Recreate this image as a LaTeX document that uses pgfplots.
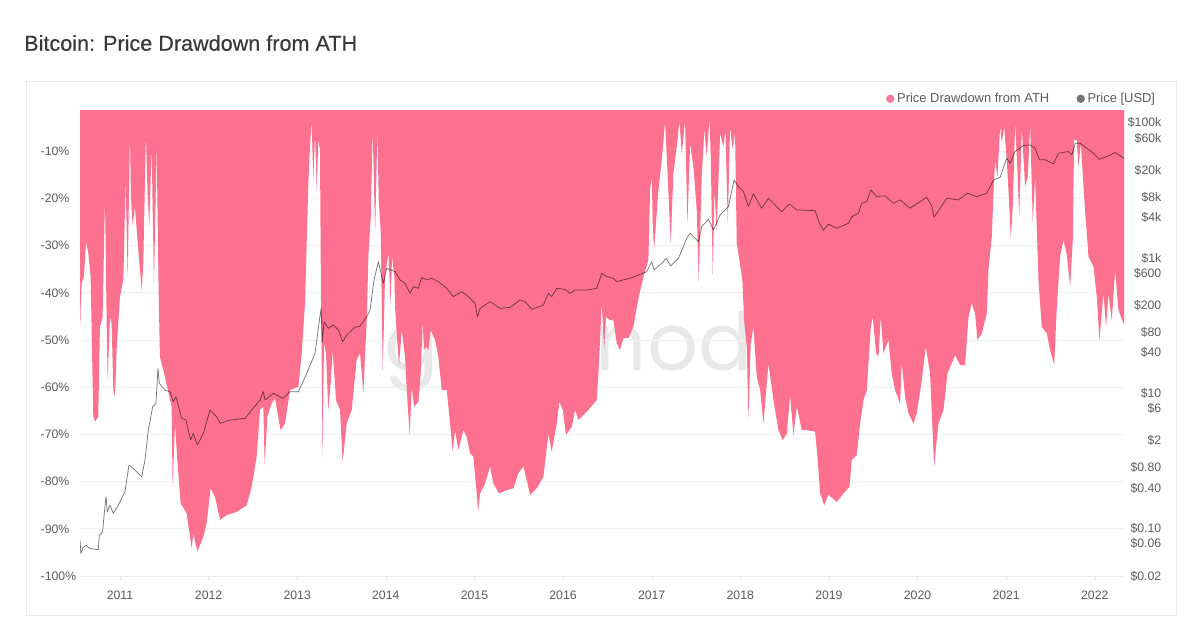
\documentclass[border=0pt]{standalone}
\usepackage{fontspec}
\setmainfont{Liberation Sans}
\usepackage{pgfplots}
\usepackage{pgfplotstable}
\pgfplotsset{compat=1.18}
\definecolor{ddpink}{HTML}{FD718F}
\definecolor{legpink}{HTML}{F4799A}
\definecolor{txtgray}{HTML}{5C5C5C}
\definecolor{gridc}{HTML}{F1F1F1}
\newfontfamily\wmfont{Poppins}
\pgfplotstableread{
year dd
2010.549 0
2010.549 -39.4
2010.556 -47.2
2010.567 -38.0
2010.594 -36.6
2010.616 -29.2
2010.643 -31.6
2010.669 -36.6
2010.699 -66.2
2010.718 -67.3
2010.755 -66.2
2010.774 -47.2
2010.804 -45.1
2010.831 -19.6
2010.850 -46.5
2010.861 -58.5
2010.887 -45.1
2010.906 -46.5
2010.925 -60.6
2010.944 -62.0
2010.962 -52.1
2011.000 -40.8
2011.038 -37.3
2011.064 -16.1
2011.087 -36.6
2011.113 -5.9
2011.124 -19.6
2011.143 -25.6
2011.169 -21.8
2011.207 -30.9
2011.245 -39.4
2011.263 -33.8
2011.293 -6.2
2011.309 -17.5
2011.331 -26.0
2011.357 -9.0
2011.384 -38.0
2011.414 -8.7
2011.436 -39.4
2011.451 -53.5
2011.508 -57.8
2011.583 -64.1
2011.594 -81.1
2011.621 -67.7
2011.647 -75.4
2011.685 -84.6
2011.752 -86.7
2011.809 -94.1
2011.828 -91.0
2011.873 -94.8
2011.941 -91.7
2011.978 -88.8
2012.023 -81.4
2012.072 -83.2
2012.129 -88.1
2012.204 -87.1
2012.317 -86.4
2012.430 -85.0
2012.486 -81.1
2012.543 -74.7
2012.580 -64.8
2012.618 -64.1
2012.633 -76.5
2012.663 -66.2
2012.712 -63.4
2012.749 -62.4
2012.813 -69.1
2012.862 -67.7
2012.919 -60.6
2013.013 -59.9
2013.051 -52.8
2013.088 -42.2
2013.126 -16.8
2013.144 -9.0
2013.163 -3.7
2013.182 -16.1
2013.201 -6.2
2013.220 -18.2
2013.238 -7.6
2013.257 -9.7
2013.269 -42.9
2013.276 -53.5
2013.287 -75.1
2013.302 -50.7
2013.325 -52.8
2013.351 -64.8
2013.378 -59.2
2013.400 -52.1
2013.438 -62.7
2013.483 -64.8
2013.513 -75.8
2013.558 -67.7
2013.615 -64.8
2013.671 -54.2
2013.709 -52.8
2013.747 -61.3
2013.766 -52.8
2013.784 -46.5
2013.803 -32.3
2013.830 -23.9
2013.852 -5.5
2013.879 -27.4
2013.905 -5.2
2013.920 -20.3
2013.942 -26.7
2013.954 -42.2
2013.965 -56.7
2013.991 -36.6
2014.029 -31.6
2014.055 -42.2
2014.070 -32.3
2014.097 -36.6
2014.104 -42.9
2014.123 -48.6
2014.149 -55.3
2014.180 -47.9
2014.217 -53.5
2014.243 -62.7
2014.270 -70.1
2014.292 -59.9
2014.319 -64.1
2014.368 -63.1
2014.394 -57.1
2014.416 -45.8
2014.431 -52.1
2014.454 -51.4
2014.480 -52.1
2014.507 -47.9
2014.556 -50.0
2014.593 -53.5
2014.631 -60.6
2014.688 -60.6
2014.725 -67.7
2014.755 -73.7
2014.781 -69.1
2014.819 -73.3
2014.875 -69.1
2014.913 -70.5
2014.951 -74.0
2014.988 -74.7
2015.026 -82.5
2015.041 -86.4
2015.064 -82.5
2015.120 -80.4
2015.177 -76.8
2015.214 -80.4
2015.278 -82.5
2015.365 -81.8
2015.440 -81.4
2015.496 -78.2
2015.553 -76.8
2015.590 -79.7
2015.628 -82.8
2015.703 -81.4
2015.778 -79.0
2015.835 -69.8
2015.872 -73.7
2015.929 -67.7
2015.959 -63.1
2015.997 -64.8
2016.034 -70.1
2016.098 -68.4
2016.136 -64.8
2016.173 -66.9
2016.267 -65.2
2016.380 -62.7
2016.399 -57.1
2016.437 -42.2
2016.463 -52.1
2016.485 -45.1
2016.531 -45.8
2016.568 -45.8
2016.606 -50.7
2016.643 -52.1
2016.681 -49.6
2016.738 -49.6
2016.794 -47.2
2016.850 -41.2
2016.907 -36.6
2016.963 -33.1
2016.982 -18.2
2017.001 -15.4
2017.012 -25.3
2017.027 -30.9
2017.076 -18.2
2017.114 -11.9
2017.151 -3.7
2017.178 -14.0
2017.215 -29.5
2017.245 -14.7
2017.283 -9.0
2017.313 -3.7
2017.340 -10.5
2017.377 -3.4
2017.403 -25.3
2017.434 -8.3
2017.471 -13.3
2017.509 -22.5
2017.531 -37.6
2017.565 -15.4
2017.595 -5.2
2017.622 -11.2
2017.652 -3.0
2017.667 -11.2
2017.689 -36.2
2017.708 -18.2
2017.734 -26.7
2017.772 -6.2
2017.810 -9.0
2017.832 -5.5
2017.859 -25.3
2017.885 -4.8
2017.915 -9.7
2017.941 -5.9
2017.960 -29.5
2017.990 -33.1
2018.024 -37.3
2018.043 -45.8
2018.073 -51.4
2018.092 -66.6
2018.118 -50.7
2018.148 -47.2
2018.186 -57.8
2018.224 -60.6
2018.261 -67.7
2018.318 -54.9
2018.374 -62.7
2018.431 -69.1
2018.479 -71.2
2018.525 -69.8
2018.562 -61.7
2018.600 -70.1
2018.638 -64.1
2018.694 -69.1
2018.750 -69.1
2018.844 -69.4
2018.871 -74.7
2018.901 -82.5
2018.946 -85.0
2018.995 -82.8
2019.089 -84.3
2019.164 -82.5
2019.232 -81.1
2019.258 -75.4
2019.314 -74.4
2019.352 -67.7
2019.390 -62.7
2019.427 -60.6
2019.473 -47.2
2019.495 -45.1
2019.533 -52.8
2019.560 -53.5
2019.585 -45.0
2019.615 -52.8
2019.672 -50.0
2019.709 -57.1
2019.747 -60.6
2019.803 -63.4
2019.822 -54.9
2019.860 -62.0
2019.898 -65.5
2019.954 -67.7
2019.992 -65.5
2020.048 -58.5
2020.093 -51.4
2020.142 -57.1
2020.187 -76.8
2020.236 -67.7
2020.293 -64.8
2020.338 -57.1
2020.424 -53.2
2020.481 -55.3
2020.537 -55.3
2020.575 -45.1
2020.612 -42.2
2020.650 -44.4
2020.676 -50.0
2020.725 -48.6
2020.782 -44.4
2020.800 -35.2
2020.838 -28.1
2020.857 -18.9
2020.876 -11.9
2020.902 -15.4
2020.932 -4.8
2020.951 -8.3
2020.977 -4.8
2021.007 -11.9
2021.030 -19.6
2021.053 -28.5
2021.075 -21.8
2021.101 -4.1
2021.128 -14.0
2021.147 -23.9
2021.177 -5.2
2021.214 -17.5
2021.244 -15.4
2021.271 -4.4
2021.301 -25.3
2021.327 -15.4
2021.365 -37.3
2021.402 -47.2
2021.459 -48.6
2021.496 -52.1
2021.542 -55.3
2021.572 -42.9
2021.609 -32.3
2021.647 -28.8
2021.685 -32.0
2021.722 -38.7
2021.752 -28.8
2021.767 -7.6
2021.797 -7.6
2021.816 -13.3
2021.843 -8.3
2021.880 -19.6
2021.929 -32.3
2021.986 -34.5
2022.023 -40.8
2022.053 -50.0
2022.098 -40.1
2022.128 -47.2
2022.155 -40.1
2022.192 -45.8
2022.230 -35.2
2022.267 -43.6
2022.330 -46.8
2022.330 0
}\drawdown
\pgfplotstableread{
year price
2010.549 0.068
2010.560 0.043
2010.579 0.051
2010.616 0.057
2010.661 0.051
2010.755 0.049
2010.767 0.080
2010.804 0.090
2010.819 0.150
2010.842 0.297
2010.857 0.178
2010.887 0.223
2010.925 0.168
2010.981 0.223
2011.056 0.352
2011.102 0.873
2011.169 0.736
2011.245 0.586
2011.282 1.03
2011.320 2.87
2011.369 6.37
2011.406 7.13
2011.429 23.5
2011.444 14.1
2011.508 11.2
2011.564 10.6
2011.602 7.54
2011.632 8.95
2011.696 4.28
2011.745 4.04
2011.798 2.05
2011.828 2.57
2011.873 1.72
2011.941 2.57
2012.016 5.68
2012.091 4.53
2012.129 3.61
2012.242 4.04
2012.411 4.28
2012.486 5.68
2012.580 7.98
2012.618 10.6
2012.637 7.98
2012.731 10.0
2012.843 8.45
2012.919 10.6
2013.013 10.6
2013.107 19.8
2013.201 39.2
2013.269 181
2013.284 58.2
2013.302 115
2013.351 91.8
2013.408 103
2013.464 86.7
2013.513 58.2
2013.558 73.1
2013.652 94.9
2013.709 99.3
2013.784 136
2013.822 171
2013.867 476
2013.916 889
2013.954 533
2013.973 425
2014.010 708
2014.104 632
2014.161 476
2014.217 425
2014.274 302
2014.311 379
2014.368 358
2014.405 521
2014.462 476
2014.518 504
2014.593 450
2014.688 358
2014.763 270
2014.857 320
2014.932 270
2015.007 215
2015.034 136
2015.064 181
2015.177 228
2015.289 181
2015.402 187
2015.515 241
2015.571 228
2015.647 175
2015.778 203
2015.835 302
2015.872 270
2015.929 358
2016.023 346
2016.079 302
2016.136 339
2016.267 339
2016.380 358
2016.437 597
2016.493 533
2016.568 504
2016.606 450
2016.756 504
2016.944 632
2017.001 889
2017.027 669
2017.114 839
2017.163 995
2017.215 767
2017.302 995
2017.396 1970
2017.434 2330
2017.528 1760
2017.565 2930
2017.640 3760
2017.697 2610
2017.772 4350
2017.866 5780
2017.930 14350
2017.979 11400
2018.035 9640
2018.092 5780
2018.148 8910
2018.242 5470
2018.318 7690
2018.468 4880
2018.555 6340
2018.638 5160
2018.844 5050
2018.893 3280
2018.938 2610
2018.995 3170
2019.089 2770
2019.221 3280
2019.258 4110
2019.333 4610
2019.371 6490
2019.427 6860
2019.473 10200
2019.540 8130
2019.578 8320
2019.634 8320
2019.728 6490
2019.803 7260
2019.916 5470
2020.029 6860
2020.104 7950
2020.161 5780
2020.187 4030
2020.255 5470
2020.330 7690
2020.462 7260
2020.563 9120
2020.669 8130
2020.782 9120
2020.857 14350
2020.932 15700
2021.007 30000
2021.045 25300
2021.101 37700
2021.195 46200
2021.271 47300
2021.327 42200
2021.376 28400
2021.440 28400
2021.534 24800
2021.590 35600
2021.703 37700
2021.741 33600
2021.779 50000
2021.835 50000
2021.910 42200
2021.985 35600
2022.053 29000
2022.136 31800
2022.230 36400
2022.330 30000
}\pricetable
\begin{document}
\begin{tikzpicture}
\path[use as bounding box,fill=white] (0pt,0pt) rectangle (900pt,-464.25pt);
\draw[color=black!9,line width=0.6pt] (19.5pt,-60.75pt) rectangle (882pt,-461.25pt);
\node[anchor=west,inner sep=0pt,text=black!78] at (18pt,-32.25pt) {\fontsize{16.2}{19}\selectfont\addfontfeature{FakeBold=0.3}Bitcoin: Price Drawdown from ATH};
\node[anchor=base,inner sep=0pt,text=black!9] at (445pt,-277.5pt) {\fontsize{60}{70}\selectfont\wmfont glassnode};
\begin{axis}[
  name=dd, at={(60pt,-432pt)}, anchor=south west, scale only axis,
  width=783pt, height=349.5pt,
  xmin=2010.549, xmax=2022.33, ymin=-100, ymax=-1.27,
  axis y line*=left, axis x line*=bottom,
  y axis line style={draw=none},
  x axis line style={draw=black!8,-},
  xtick={2011,2012,2013,2014,2015,2016,2017,2018,2019,2020,2021,2022},
  xticklabels={2011,2012,2013,2014,2015,2016,2017,2018,2019,2020,2021,2022},
  ytick={-10,-20,-30,-40,-50,-60,-70,-80,-90,-100},
  yticklabels={-10\%,-20\%,-30\%,-40\%,-50\%,-60\%,-70\%,-80\%,-90\%,-100\%},
  ymajorgrids, major grid style={draw=gridc,line width=0.6pt},
  tick label style={font=\fontsize{9.2}{11}\selectfont,text=txtgray},
  xtick style={draw=black!10}, ytick style={draw=none},
  major tick length=3pt, tick align=outside,
  yticklabel style={anchor=west,xshift=-30pt},
  xticklabel style={yshift=-5pt},
]
\addplot[fill=ddpink,draw=none] table[x=year,y=dd] {\drawdown} -- cycle;
\end{axis}
\begin{axis}[
  at={(60pt,-432pt)}, anchor=south west, scale only axis,
  width=783pt, height=349.5pt,
  xmin=2010.549, xmax=2022.33, ymode=log, ymin=0.02, ymax=155000,
  axis x line=none, axis y line*=right,
  y axis line style={draw=none},
  ytick={100000,60000,20000,8000,4000,1000,600,200,80,40,10,6,2,0.8,0.4,0.1,0.06,0.02},
  yticklabels={\$100k,\$60k,\$20k,\$8k,\$4k,\$1k,\$600,\$200,\$80,\$40,\$10,\$6,\$2,\$0.80,\$0.40,\$0.10,\$0.06,\$0.02},
  minor ytick={}, ytick style={draw=none}, minor tick length=0pt,
  tick label style={font=\fontsize{9.2}{11}\selectfont,text=txtgray},
  yticklabel style={anchor=east,xshift=31.5pt},
  legend style={at={(1,1)},anchor=south east,draw=none,fill=none,
    font=\fontsize{9.7}{11}\selectfont,text=txtgray,legend columns=2,
    yshift=0pt,xshift=28.5pt,
    /tikz/every even column/.append style={column sep=18.5pt}},
  legend image code/.code={\fill[#1] (0.45em,0pt) circle (2.9pt);},
]
\addlegendimage{legpink}
\addlegendentry{Price Drawdown from ATH}
\addlegendimage{black!55}
\addlegendentry{Price [USD]}
\addplot[draw=black,draw opacity=0.55,line width=0.55pt,line join=round] table[x=year,y=price] {\pricetable};
\end{axis}
\end{tikzpicture}
\end{document}
